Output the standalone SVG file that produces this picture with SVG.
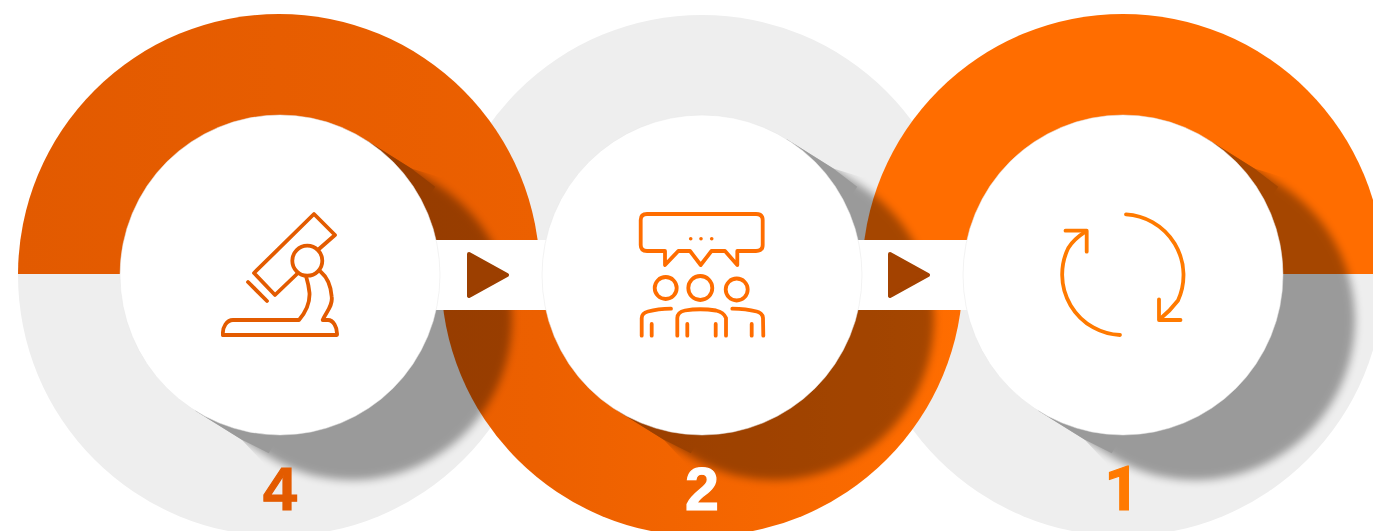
<svg xmlns="http://www.w3.org/2000/svg" width="1373" height="531" viewBox="0 0 1373 531">
<style>
.gray{fill:#eeeeee}
.inner{fill:#fff;stroke:#e6e6e6;stroke-width:.5}
.num{font-family:"Liberation Sans",Arial,sans-serif;font-weight:700;font-size:61px;text-anchor:middle;stroke-width:1.200}
.ic{fill:none;stroke-width:3.8;stroke-linecap:round;stroke-linejoin:round}
</style>
<defs>
<linearGradient id="hot" gradientUnits="userSpaceOnUse" x1="18" y1="0" x2="963" y2="0">
<stop offset="0" stop-color="#e25a00"/><stop offset=".55" stop-color="#ec6000"/><stop offset="1" stop-color="#ff6d00"/>
</linearGradient>
<clipPath id="top"><rect x="0" y="-10" width="1400" height="284"/></clipPath>
<clipPath id="bot"><rect x="0" y="274" width="1400" height="300"/></clipPath>
<clipPath id="wedge"><path d="M-84.800 135.700L-38.200 164.800L-17 187.500L100 400L400 400L400 -200L161 -97.500L131.400 -106.600L84.800 -135.700Z"/></clipPath>
<filter id="soft" filterUnits="userSpaceOnUse" x="-300" y="-300" width="800" height="800"><feGaussianBlur stdDeviation="4"/></filter>
<g id="shadow" opacity=".35">
<g clip-path="url(#wedge)"><path filter="url(#soft)" d="M84.800 -135.700L156.800 -90.700A160 160 0 0 1 -12.800 180.700L-84.800 135.700Z"/></g>
<path d="M-84.800 135.700L-38.200 164.800L-11.200 178.200L155.200 -88.200L131.400 -106.600L84.800 -135.700Z"/>
</g>
</defs>

<g id="rings">
<circle class="gray" cx="279" cy="275" r="261" clip-path="url(#bot)"/>
<circle class="gray" cx="702" cy="276" r="261" clip-path="url(#top)"/>
<circle class="gray" cx="1123" cy="275" r="261" clip-path="url(#bot)"/>
<circle fill="url(#hot)" cx="279" cy="275" r="261" clip-path="url(#top)"/>
<circle fill="#ff6d00" cx="1123" cy="275" r="261" clip-path="url(#top)"/>
<circle fill="url(#hot)" cx="702" cy="275" r="261" clip-path="url(#bot)"/>
</g>

<g id="shadows">
<use href="#shadow" x="280" y="275"/>
<use href="#shadow" x="702" y="275"/>
<use href="#shadow" x="1123" y="275"/>
</g>

<g id="connectors">
<rect x="430" y="240" width="120" height="70" fill="#fff"/>
<rect x="852" y="240" width="120" height="70" fill="#fff"/>
<path fill="#9c3f00" stroke="#9c3f00" stroke-width="4" stroke-linejoin="round" d="M469 254L507 275L469 296Z"/>
<path fill="#a34200" stroke="#a34200" stroke-width="4" stroke-linejoin="round" d="M890 254L928 275L890 296Z"/>
</g>

<g id="node-4">
<circle class="inner" cx="280" cy="275" r="160"/>
<g class="ic" stroke="#e35b00">
<path d="M319 249L335 235L314 214L254 273L275 295L298 273"/>
<circle cx="307.300" cy="260.700" r="15"/>
<path d="M248 282L267 301"/>
<path d="M223 335L337 335C337.500 327 333 320 328 320L322.700 320C326 312 333 306 331.700 296.700C331 286 327 277 320.700 271.700"/>
<path d="M223 335C222 327 227 320 233 320L299 320C305 313 310 304 309.500 293C309 287 307.500 281 306 276"/>
</g>
<text class="num" x="280" y="510" fill="#e35b00" stroke="#e35b00">4</text>
</g>

<g id="node-2">
<circle class="inner" cx="702" cy="275" r="160"/>
<g class="ic" stroke="#ff6d00">
<path d="M647 214L756 214Q762.700 214 762.700 220L762.700 245Q762.700 251 756 251L737.300 251L737.300 265L725 251L711.500 251L700.700 265L690 251L678.300 251L665 265L665 251L647 251Q640.700 251 640.700 245L640.700 220Q640.700 214 647 214Z"/>
<circle cx="665.700" cy="288" r="11"/>
<circle cx="700.300" cy="288" r="12"/>
<circle cx="736.700" cy="289.500" r="11"/>
<path d="M641.700 335.700L641.700 318Q642 313 648 311.500Q658 309 671 308.700"/>
<path d="M763.300 335.700L763 318Q762.500 313 756.700 311.500Q746 309 732.300 308.700"/>
<path d="M677.300 335.700L677.300 318Q677.500 312 685 310.500Q700 308 716 310.500Q723.500 312 726 318L726 335.700"/>
<path d="M651.700 324L651.700 335.700M687.300 324L687.300 335.700M715.700 324L715.700 335.700M751.700 324L751.700 335.700"/>
</g>
<g fill="#ff6d00"><circle cx="690.700" cy="238.700" r="1.800"/><circle cx="701" cy="238.700" r="1.800"/><circle cx="711.700" cy="238.700" r="1.800"/></g>
<text class="num" x="702" y="510" fill="#ffffff" stroke="#ffffff">2</text>
</g>

<g id="node-1">
<circle class="inner" cx="1123" cy="275" r="160"/>
<g class="ic" stroke="#ff7a00">
<path d="M1126 214.300A61 61 0 0 1 1178 300.500Q1170 311 1160 319"/>
<path d="M1120 335A60.500 60.500 0 0 1 1068.300 248Q1074 239 1085.500 231.700"/>
<path d="M1065.500 230.700L1086.700 230.700L1086.700 251.700"/>
<path d="M1159 299.300L1159 320L1180.500 320"/>
</g>
<text class="num" x="1122" y="510" fill="#ff7a00" stroke="#ff7a00" style="font-family:Roboto,sans-serif">1</text>
</g>
</svg>
